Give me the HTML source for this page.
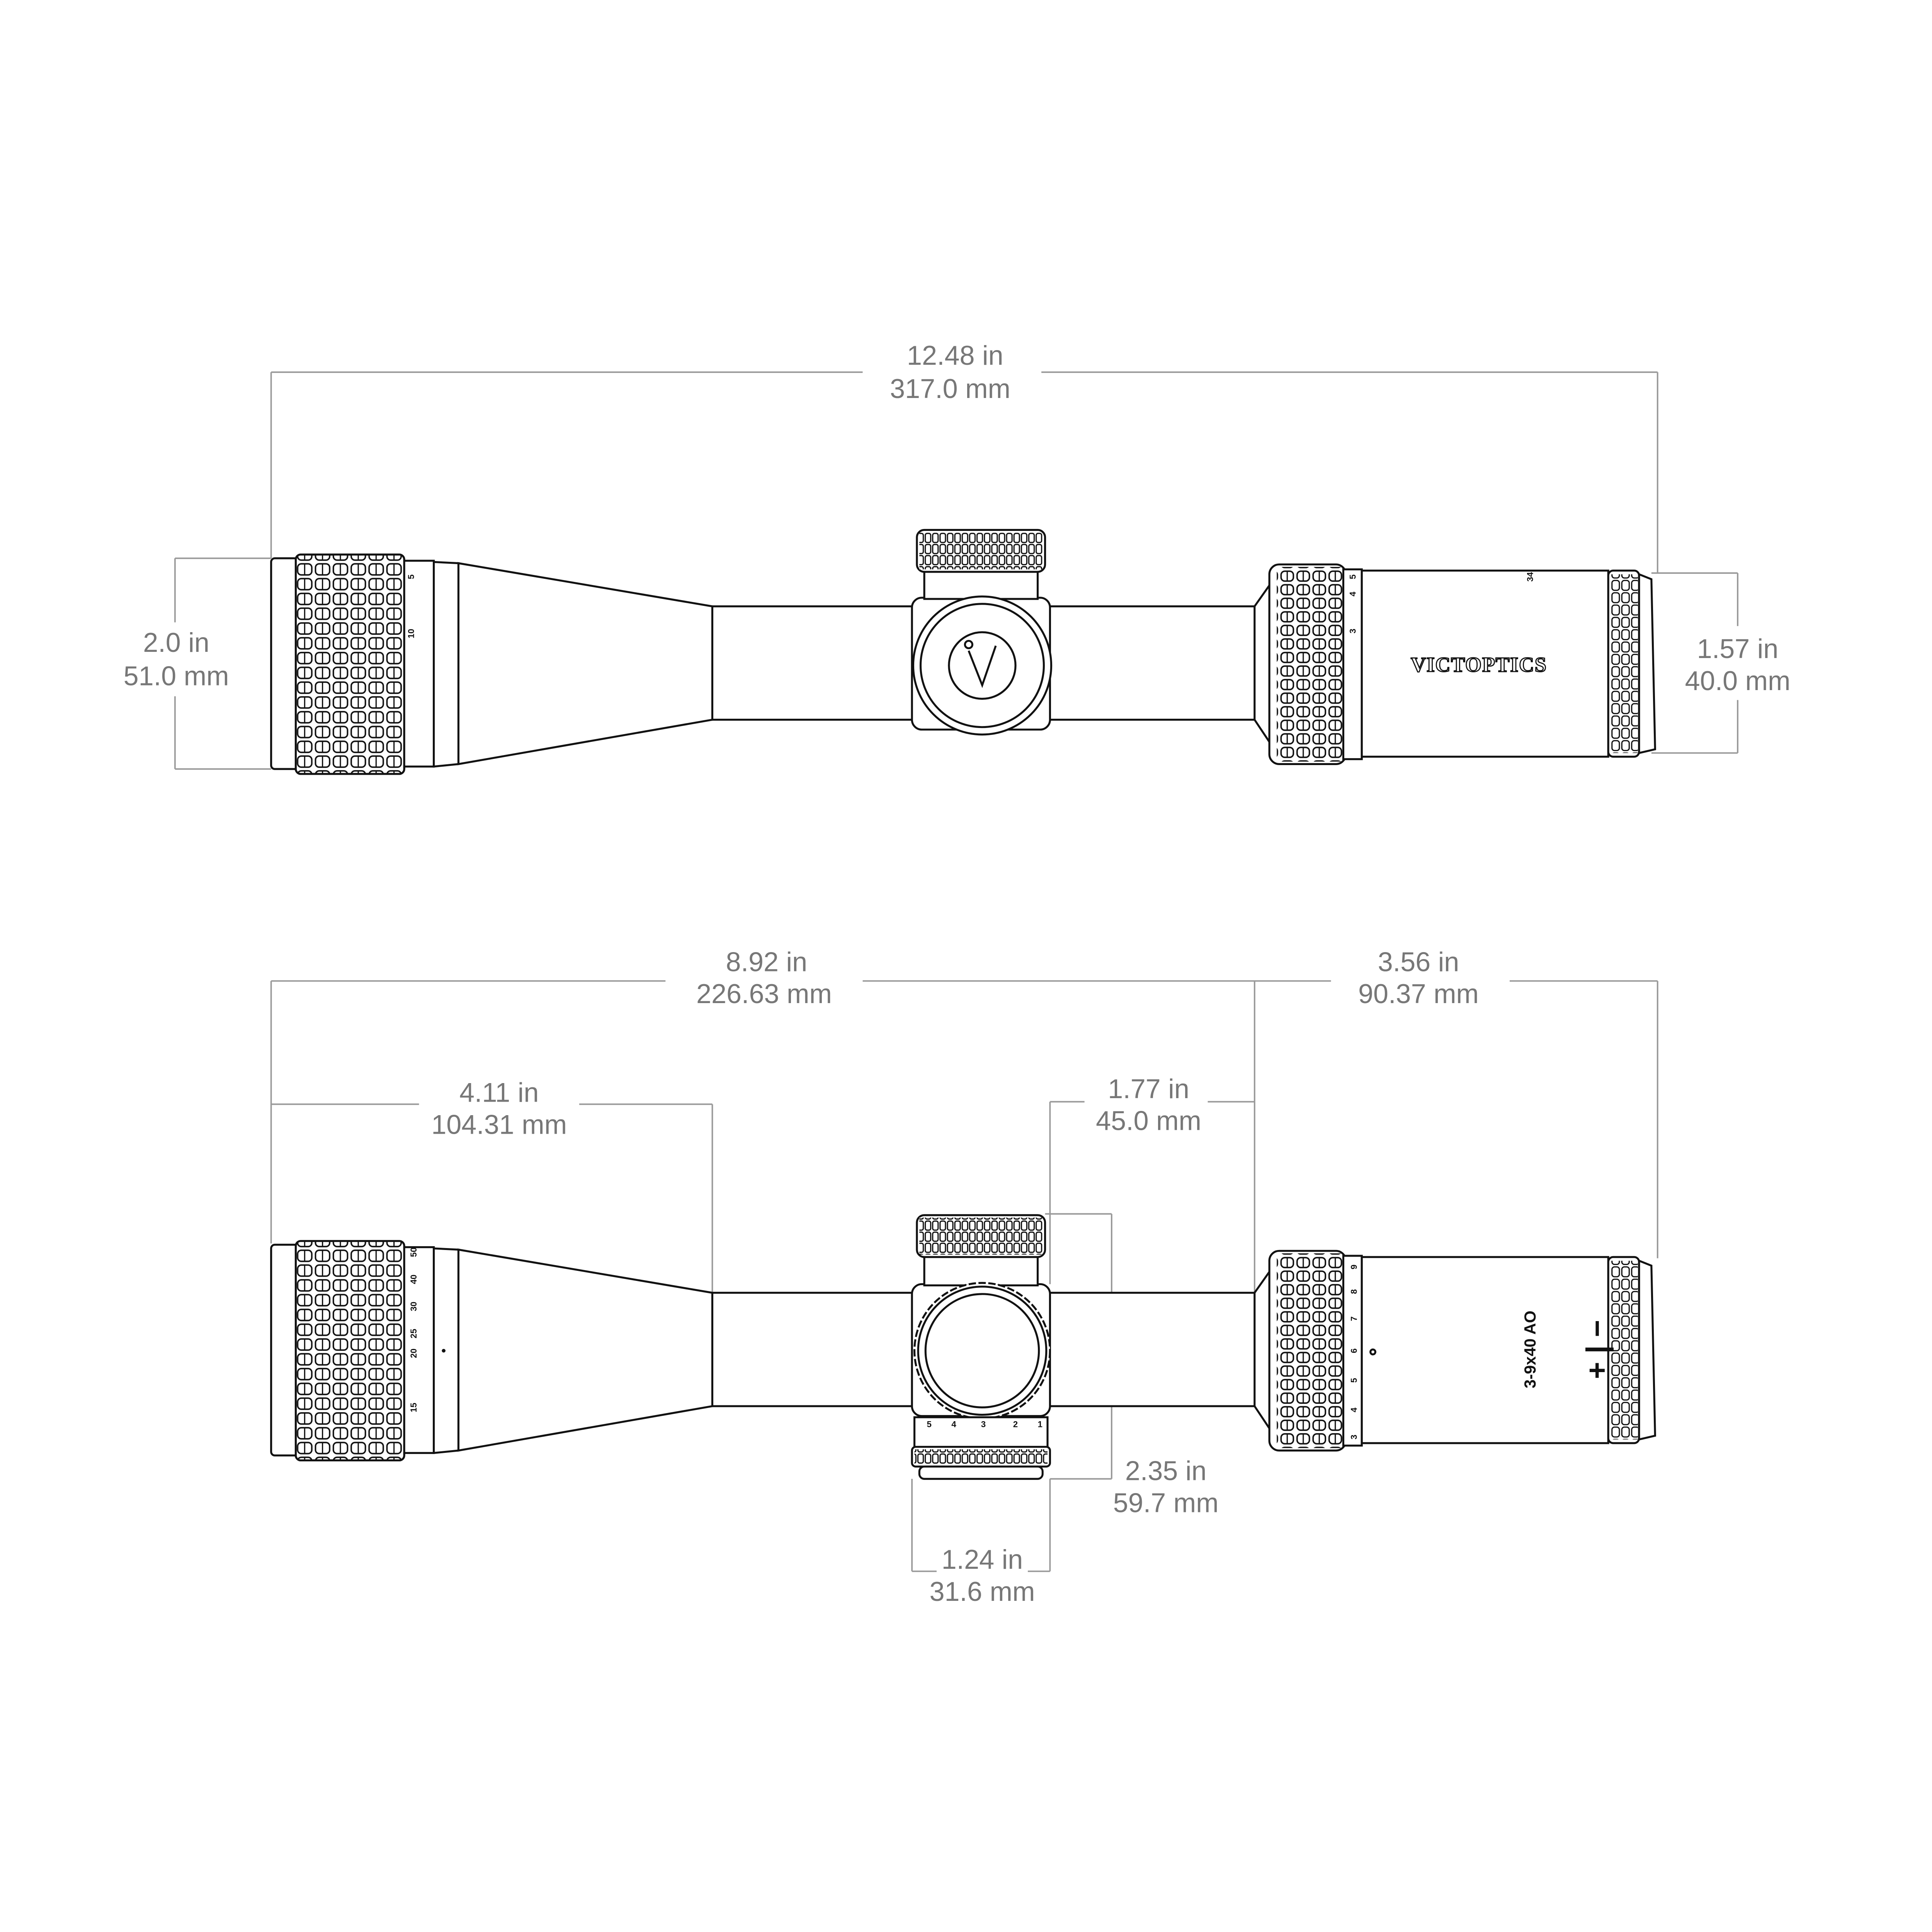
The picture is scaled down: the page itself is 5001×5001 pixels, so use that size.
<!DOCTYPE html>
<html><head><meta charset="utf-8"><style>
html,body{margin:0;padding:0;background:#fff;overflow:hidden;width:5001px;height:5001px}
svg{display:block}
.d{stroke:#999;stroke-width:1.2;fill:none}
.t{font-family:"Liberation Sans",sans-serif;font-size:22px;fill:#777;text-anchor:middle}
.s{stroke:#111;stroke-width:1.6;fill:#fff}
.n{stroke:#111;stroke-width:1.6;fill:none}
.k{font-family:"Liberation Sans",sans-serif;font-size:7px;font-weight:bold;fill:#111}
</style></head><body>
<svg width="5001" height="5001" viewBox="0 0 1568 1568" xmlns="http://www.w3.org/2000/svg">
<defs>
<pattern id="kn" x="240" y="0" width="14.5" height="12" patternUnits="userSpaceOnUse">
<rect x="1.5" y="1.5" width="11.5" height="9" rx="3" fill="#fff" stroke="#111" stroke-width="1.2"/>
<line x1="7.2" y1="2" x2="7.2" y2="10" stroke="#111" stroke-width="1"/>
</pattern>
<pattern id="kn2" x="1038" y="0" width="13" height="11" patternUnits="userSpaceOnUse">
<rect x="1.5" y="1.5" width="10" height="8" rx="3" fill="#fff" stroke="#111" stroke-width="1.2"/>
<line x1="6.5" y1="2" x2="6.5" y2="9" stroke="#111" stroke-width="1"/>
</pattern>
<pattern id="kn3" x="0" y="0" width="6" height="9" patternUnits="userSpaceOnUse">
<rect x="0.8" y="0.8" width="4.4" height="7.4" rx="1.5" fill="#fff" stroke="#111" stroke-width="1"/>
</pattern>
<pattern id="kn4" x="1307" y="0" width="8" height="10" patternUnits="userSpaceOnUse">
<rect x="1" y="1" width="6" height="8" rx="2" fill="#fff" stroke="#111" stroke-width="1"/>
</pattern>
<g id="scope">
<rect x="220" y="453" width="22" height="171" rx="3" class="s"/>
<rect x="240" y="450" width="88" height="178" rx="4" class="s"/>
<rect x="240" y="450" width="88" height="178" rx="4" fill="url(#kn)" stroke="#111" stroke-width="1.6"/>
<rect x="328" y="455" width="24" height="167" class="s"/>
<polygon points="352,456 372,457 372,620 352,622" class="s"/>
<polygon points="372,457 578,492 578,584 372,620" class="s"/>
<rect x="578" y="492" width="164" height="92" class="s"/>
<rect x="850" y="492" width="170" height="92" class="s"/>
<polygon points="1018,492 1030,475 1030,602 1018,584" class="s"/>
<rect x="1030" y="458" width="62" height="162" rx="8" class="s"/>
<rect x="1036" y="460" width="54" height="158" fill="url(#kn2)" stroke="none"/>
<rect x="1090" y="462" width="15" height="154" class="s"/>
<rect x="1105" y="463" width="200" height="151" class="s"/>
<rect x="1305" y="463" width="25" height="151" rx="4" class="s"/>
<rect x="1307" y="466" width="22" height="145" fill="url(#kn4)"/>
<polygon points="1330,466 1340,470 1343,608 1330,611" class="s"/>
<rect x="740" y="485" width="112" height="107" rx="8" class="s"/>
</g>
</defs>

<line x1="220" y1="302" x2="700" y2="302" class="d"/>
<line x1="845" y1="302" x2="1345" y2="302" class="d"/>
<line x1="220" y1="302" x2="220" y2="453" class="d"/>
<line x1="1345" y1="302" x2="1345" y2="465" class="d"/>
<text x="775" y="296" class="t">12.48 in</text>
<text x="771" y="323" class="t">317.0 mm</text>
<line x1="142" y1="453" x2="220" y2="453" class="d"/>
<line x1="142" y1="624" x2="220" y2="624" class="d"/>
<line x1="142" y1="453" x2="142" y2="505" class="d"/>
<line x1="142" y1="565" x2="142" y2="624" class="d"/>
<text x="143" y="529" class="t">2.0 in</text>
<text x="143" y="556" class="t">51.0 mm</text>
<line x1="1340" y1="465" x2="1410" y2="465" class="d"/>
<line x1="1340" y1="611" x2="1410" y2="611" class="d"/>
<line x1="1410" y1="465" x2="1410" y2="508" class="d"/>
<line x1="1410" y1="568" x2="1410" y2="611" class="d"/>
<text x="1410" y="534" class="t">1.57 in</text>
<text x="1410" y="560" class="t">40.0 mm</text>

<use href="#scope"/>
<rect x="750" y="458" width="92" height="28" class="s"/>
<rect x="744" y="430" width="104" height="34" rx="6" class="s"/>
<rect x="746" y="432" width="100" height="30" fill="url(#kn3)"/>
<circle cx="797" cy="540" r="56" class="s"/>
<circle cx="797" cy="540" r="50" class="n"/>
<circle cx="797" cy="540" r="27" class="n"/>
<path d="M786 528 L797 556 L808 524" class="n" stroke-width="2.5"/>
<circle cx="786" cy="523" r="3" class="n"/>
<text x="1200" y="545" font-family="Liberation Serif,serif" font-size="17" font-weight="bold" fill="#fff" stroke="#111" stroke-width="0.9" text-anchor="middle" letter-spacing="0.5">VICTOPTICS</text>
<text x="336" y="470" class="k" transform="rotate(-90 336 470)">5</text>
<text x="336" y="518" class="k" transform="rotate(-90 336 518)">10</text>
<text x="1100" y="470" class="k" transform="rotate(-90 1100 470)">5</text>
<text x="1100" y="484" class="k" transform="rotate(-90 1100 484)">4</text>
<text x="1100" y="514" class="k" transform="rotate(-90 1100 514)">3</text>
<text x="1244" y="472" class="k" transform="rotate(-90 1244 472)">34</text>

<line x1="220" y1="796" x2="540" y2="796" class="d"/>
<line x1="700" y1="796" x2="1080" y2="796" class="d"/>
<line x1="1225" y1="796" x2="1345" y2="796" class="d"/>
<line x1="220" y1="796" x2="220" y2="1009" class="d"/>
<line x1="1345" y1="796" x2="1345" y2="1021" class="d"/>
<line x1="1018" y1="796" x2="1018" y2="1050" class="d"/>
<text x="622" y="788" class="t">8.92 in</text>
<text x="620" y="814" class="t">226.63 mm</text>
<text x="1151" y="788" class="t">3.56 in</text>
<text x="1151" y="814" class="t">90.37 mm</text>
<line x1="220" y1="896" x2="340" y2="896" class="d"/>
<line x1="470" y1="896" x2="578" y2="896" class="d"/>
<line x1="578" y1="896" x2="578" y2="1050" class="d"/>
<text x="405" y="894" class="t">4.11 in</text>
<text x="405" y="920" class="t">104.31 mm</text>
<line x1="852" y1="894" x2="880" y2="894" class="d"/>
<line x1="980" y1="894" x2="1018" y2="894" class="d"/>
<line x1="852" y1="894" x2="852" y2="1042" class="d"/>
<text x="932" y="891" class="t">1.77 in</text>
<text x="932" y="917" class="t">45.0 mm</text>
<line x1="848" y1="985" x2="902" y2="985" class="d"/>
<line x1="852" y1="1200" x2="902" y2="1200" class="d"/>
<line x1="902" y1="985" x2="902" y2="1200" class="d"/>
<text x="946" y="1201" class="t">2.35 in</text>
<text x="946" y="1227" class="t">59.7 mm</text>
<line x1="740" y1="1200" x2="740" y2="1275" class="d"/>
<line x1="852" y1="1200" x2="852" y2="1275" class="d"/>
<line x1="740" y1="1275" x2="760" y2="1275" class="d"/>
<line x1="834" y1="1275" x2="852" y2="1275" class="d"/>
<text x="797" y="1273" class="t">1.24 in</text>
<text x="797" y="1299" class="t">31.6 mm</text>

<g transform="translate(0,557)">
<use href="#scope"/>
</g>
<rect x="750" y="1015" width="92" height="28" class="s"/>
<rect x="744" y="986" width="104" height="34" rx="6" class="s"/>
<rect x="746" y="988" width="100" height="30" fill="url(#kn3)"/>
<circle cx="797" cy="1096" r="55" class="s" stroke-dasharray="6 2"/>
<circle cx="797" cy="1096" r="52" class="n"/>
<circle cx="797" cy="1096" r="46" class="n"/>
<rect x="742" y="1150" width="108" height="26" class="s"/>
<rect x="740" y="1174" width="112" height="16" rx="3" class="s"/>
<rect x="742" y="1176" width="108" height="12" fill="url(#kn3)"/>
<rect x="746" y="1190" width="100" height="10" rx="4" class="s"/>
<text x="752" y="1158" class="k">5</text><text x="772" y="1158" class="k">4</text>
<text x="796" y="1158" class="k">3</text><text x="822" y="1158" class="k">2</text><text x="842" y="1158" class="k">1</text>
<text x="338" y="1020" class="k" transform="rotate(-90 338 1020)">50</text>
<text x="338" y="1042" class="k" transform="rotate(-90 338 1042)">40</text>
<text x="338" y="1064" class="k" transform="rotate(-90 338 1064)">30</text>
<text x="338" y="1086" class="k" transform="rotate(-90 338 1086)">25</text>
<text x="338" y="1102" class="k" transform="rotate(-90 338 1102)">20</text>
<text x="338" y="1146" class="k" transform="rotate(-90 338 1146)">15</text>
<circle cx="360" cy="1096" r="1.5" fill="#111"/>
<g class="k">
<text x="1101" y="1030" transform="rotate(-90 1101 1030)">9</text>
<text x="1101" y="1050" transform="rotate(-90 1101 1050)">8</text>
<text x="1101" y="1072" transform="rotate(-90 1101 1072)">7</text>
<text x="1101" y="1098" transform="rotate(-90 1101 1098)">6</text>
<text x="1101" y="1122" transform="rotate(-90 1101 1122)">5</text>
<text x="1101" y="1146" transform="rotate(-90 1101 1146)">4</text>
<text x="1101" y="1168" transform="rotate(-90 1101 1168)">3</text>
</g>
<circle cx="1114" cy="1097" r="2" class="n" stroke-width="1"/>
<text x="1246" y="1095" font-family="Liberation Sans,sans-serif" font-size="13" font-weight="bold" fill="#111" text-anchor="middle" transform="rotate(-90 1246 1095)">3-9x40 AO</text>
<text x="1304" y="1095" font-family="Liberation Sans,sans-serif" font-size="24" font-weight="bold" fill="#111" text-anchor="middle" transform="rotate(-90 1304 1095)">+ | −</text>
</svg>
</body></html>
